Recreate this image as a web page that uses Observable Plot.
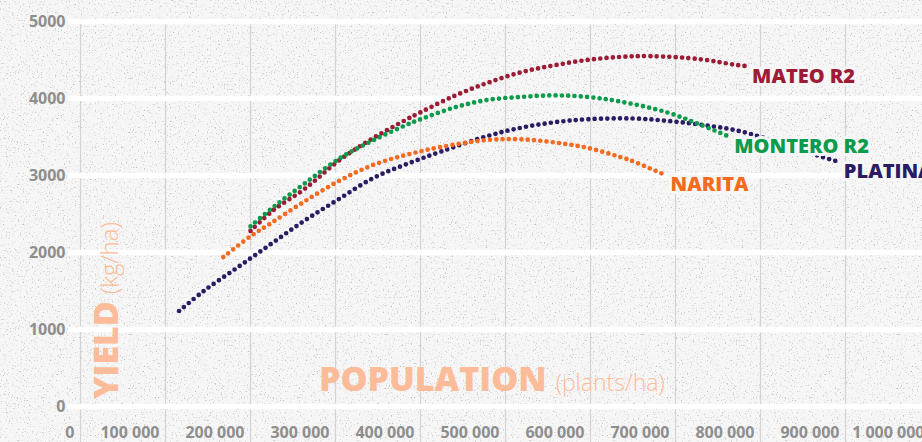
<!DOCTYPE html>
<html><head><meta charset="utf-8">
<script src="https://cdn.jsdelivr.net/npm/d3@7"></script>
<script src="https://cdn.jsdelivr.net/npm/@observablehq/plot@0.6"></script>
<style>
html,body{margin:0;padding:0;}
body{width:922px;height:442px;overflow:hidden;background-color:#f6f6f6;font-family:'Open Sans',sans-serif;}
#chart svg{display:block;}
</style></head><body><div id="chart"></div>
<script>
// ---- data ----
const seriesNames = ["PLATINA", "NARITA", "MATEO R2", "MONTERO R2"];
const seriesColors = ["#2a1b63", "#f36a21", "#9c1c36", "#0b9b4b"];

const platinaX = [116000,145000,184000,224000,263000,302000,345000,384000,424000,478000,518000,557000,596000,651000,690000,729000,778000,867000,891000];
const platinaY = [1240,1500,1800,2110,2410,2680,2970,3150,3310,3510,3620,3690,3730,3740,3710,3660,3570,3260,3180];

const naritaX = [168000,200000,224000,263000,306000,345000,384000,424000,478000,518000,557000,596000,635000,651000,687000];
const naritaY = [1940,2210,2380,2660,2940,3140,3270,3370,3460,3470,3430,3360,3240,3180,3010];

const mateoX = [200000,227000,263000,306000,345000,384000,400000,439000,478000,518000,557000,596000,635000,671000,729000,769000,783000];
const mateoY = [2280,2550,2820,3210,3490,3730,3820,4030,4200,4340,4430,4500,4540,4550,4510,4440,4420];

const monteroX = [200000,227000,263000,306000,345000,384000,400000,439000,478000,518000,557000,596000,635000,690000,729000,762000];
const monteroY = [2340,2590,2890,3230,3460,3660,3730,3880,3980,4020,4040,4020,3960,3820,3660,3510];

const xTicks = [0,100000,200000,300000,400000,500000,600000,700000,800000,900000,1000000];
const yTicks = [0,1000,2000,3000,4000,5000];
const xTitle = "POPULATION", xUnit = "(plants/ha)";
const yTitle = "YIELD", yUnit = "(kg/ha)";

// ---- background texture ----
const noise = `<svg xmlns='http://www.w3.org/2000/svg' width='256' height='256'><filter id='n' x='0' y='0'><feTurbulence type='fractalNoise' baseFrequency='0.65' numOctaves='2' seed='3' stitchTiles='stitch'/><feColorMatrix values='0 0 0 0 0.5  0 0 0 0 0.5  0 0 0 0 0.5  3.8 0 0 0 -2.3'/></filter><rect width='256' height='256' filter='url(#n)'/></svg>`;
document.body.style.backgroundImage = `url("data:image/svg+xml,${encodeURIComponent(noise)}")`;

const xs = [platinaX, naritaX, mateoX, monteroX];
const ys = [platinaY, naritaY, mateoY, monteroY];
const table = seriesNames.flatMap((name, i) => xs[i].map((x, j) => ({series: name, population: x, yield: ys[i][j]})));

const fmt = d => d3.format(",")(d).replace(/,/g, " ");
const gray = "#8e8e8e";
const peach = "#fdbc99";
const font = "'Open Sans', sans-serif";

const chart = Plot.plot({
  width: 922, height: 442,
  marginLeft: 80, marginRight: -8, marginTop: 21, marginBottom: 36,
  style: {background: "transparent", fontFamily: font, overflow: "hidden"},
  x: {domain: [0, 1000000]},
  y: {domain: [0, 5000]},
  color: {domain: seriesNames, range: seriesColors},
  marks: [
    Plot.ruleX(xTicks, {stroke: "#d3d3d3", strokeWidth: 1.2, insetBottom: -36}),
    Plot.ruleY(yTicks, {stroke: "white", strokeWidth: 5.5, insetLeft: -12}),
    Plot.line(table, {x: "population", y: "yield", z: "series", stroke: "series", curve: "catmull-rom",
      strokeWidth: 4.7, strokeDasharray: "0 6.3", strokeLinecap: "round"}),
    Plot.text(table, Plot.selectLast({x: "population", y: "yield", z: "series", text: "series", fill: "series",
      textAnchor: "start", dx: 6, dy: 10, fontSize: 20, fontWeight: 800,
      stroke: "#f6f6f6", strokeWidth: 6, strokeLinejoin: "round", paintOrder: "stroke"})),
    Plot.axisX({ticks: xTicks, tickFormat: fmt, tickSize: 0, tickPadding: 20, textAnchor: "end", dx: -6,
      fontSize: 16, fontWeight: 700, fill: gray, label: null}),
    Plot.axisY({ticks: yTicks, tickFormat: d => String(d), tickSize: 0, tickPadding: 15,
      fontSize: 16, fontWeight: 700, fill: gray, label: null})
  ]
});
document.getElementById("chart").appendChild(chart);

const svg = d3.select(chart);
const xt = svg.append("text").attr("x", 319).attr("y", 391).attr("text-anchor", "start").attr("fill", peach).style("font-family", font);
xt.append("tspan").attr("font-size", 34).attr("font-weight", 800).text(xTitle);
xt.append("tspan").attr("dx", 9).attr("font-size", 23).attr("font-weight", 300).text(xUnit);

const yt = svg.append("text").attr("transform", "translate(118,399) rotate(-90)").attr("text-anchor", "start").attr("fill", peach).style("font-family", font);
yt.append("tspan").attr("font-size", 34).attr("font-weight", 800).text(yTitle);
yt.append("tspan").attr("dx", 7).attr("font-size", 24).attr("font-weight", 300).text(yUnit);
</script>
</body></html>
